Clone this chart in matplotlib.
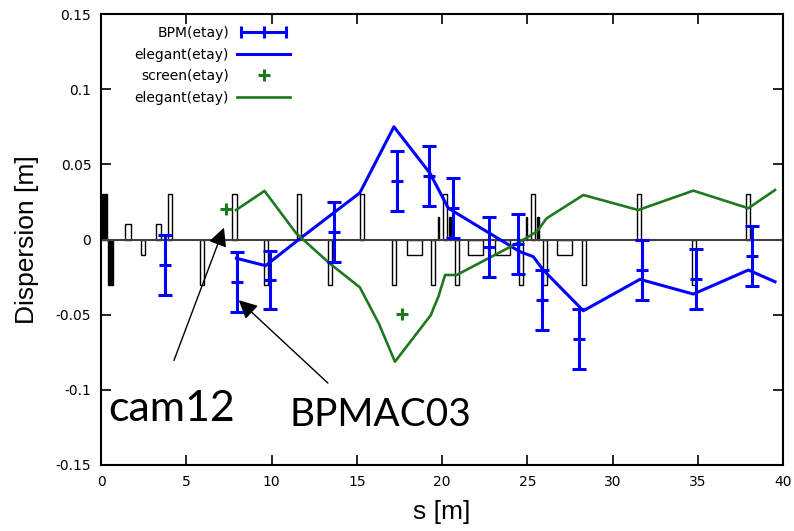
import numpy as np
import matplotlib
matplotlib.use("Agg")
import matplotlib.pyplot as plt
from matplotlib.lines import Line2D
from matplotlib.legend_handler import HandlerTuple, HandlerLine2D

# BPM measurements (s [m], etay [m], error [m])
bpm_s = [3.75, 7.98, 9.91, 13.68, 17.38, 19.26, 20.66, 22.77, 24.44, 25.88, 28.05, 31.73, 34.90, 38.16]
bpm_eta = [-0.017, -0.028, -0.027, 0.005, 0.039, 0.042, 0.021, -0.005, -0.003, -0.040, -0.066, -0.020, -0.026, -0.011]
bpm_err = [0.020, 0.020, 0.0195, 0.020, 0.020, 0.020, 0.020, 0.020, 0.020, 0.020, 0.020, 0.020, 0.020, 0.020]

# elegant model, BPM plane (blue)
ele_bpm_s = [7.94, 9.65, 11.6, 15.18, 17.18, 19.3, 20.37, 24.57, 25.35, 25.94, 28.29, 31.61, 34.74, 37.97, 39.53]
ele_bpm_eta = [-0.0125, -0.0174, 0.0, 0.031, 0.075, 0.044, 0.0208, -0.0081, -0.0114, -0.0203, -0.0474, -0.0265, -0.0363, -0.0203, -0.0281]

# screen measurements (green)
scr_s = [7.33, 17.63]
scr_eta = [0.020, -0.0496]

# elegant model, screen plane (green)
ele_scr_s = [7.92, 9.59, 11.45, 13.4, 15.18, 16.3, 17.24, 19.35, 19.5, 19.79, 20.18, 20.86, 24.57, 25.55, 26.14,
             28.29, 31.51, 34.74, 37.97, 39.53]
ele_scr_eta = [0.0196, 0.0323, 0.0041, -0.0158, -0.0318, -0.056, -0.0813, -0.0502, -0.0458, -0.038, -0.0236,
               -0.0236, -0.0015, 0.0052, 0.0141, 0.0296, 0.0196, 0.0325, 0.0208, 0.0329]

# lattice elements: start s, length, height, filled
elem_s = [0.04, 0.43, 1.41, 2.35, 3.2, 3.95, 5.8, 7.7, 9.58, 11.48, 13.33, 15.19, 17.05, 17.93, 19.35, 19.75,
          20.06, 20.43, 20.76, 21.54, 23.1, 24.52, 24.93, 25.22, 25.59, 25.94, 26.73, 28.19, 31.42, 34.64, 37.83]
elem_len = [0.29, 0.29, 0.33, 0.25, 0.3, 0.23, 0.26, 0.26, 0.23, 0.23, 0.24, 0.24, 0.25, 0.88, 0.24, 0.08,
            0.25, 0.08, 0.24, 0.88, 0.89, 0.25, 0.08, 0.25, 0.08, 0.24, 0.88, 0.24, 0.23, 0.24, 0.24]
elem_h = [0.03, -0.03, 0.01, -0.01, 0.01, 0.03, -0.03, 0.03, -0.03, 0.03, -0.03, 0.03, -0.03, -0.01, -0.03, 0.015,
          0.03, 0.015, -0.03, -0.01, -0.01, -0.03, 0.015, 0.03, 0.015, -0.03, -0.01, -0.03, 0.03, -0.03, 0.03]
elem_filled = [1, 1, 0, 0, 0, 0, 0, 0, 0, 0, 0, 0, 0, 0, 0, 1,
               0, 1, 0, 0, 0, 0, 1, 0, 1, 0, 0, 0, 0, 0, 0]

blue = '#0000ff'
green = '#1e781e'

plt.rcParams['font.family'] = 'DejaVu Sans'
fig = plt.figure(figsize=(7.94, 5.31), dpi=100)
ax = fig.add_axes([101 / 794, 1 - 465 / 531, 682 / 794, 451 / 531])

# lattice
for s, l, h, f in zip(elem_s, elem_len, elem_h, elem_filled):
    ax.bar(s, h, width=l, align='edge', bottom=0, facecolor='black' if f else 'white',
           edgecolor='black', linewidth=1.0, zorder=1)
ax.axhline(0, color='#404040', lw=1.5, zorder=2)

eb = ax.errorbar(bpm_s, bpm_eta, yerr=bpm_err, fmt='+', color=blue, ms=9, mew=2.2,
                 elinewidth=2.2, capsize=5, capthick=2.2, zorder=4)
l1, = ax.plot(ele_bpm_s, ele_bpm_eta, color=blue, lw=2.2, zorder=3)
sc, = ax.plot(scr_s, scr_eta, '+', color=green, ms=8, mew=2.2, zorder=4)
l2, = ax.plot(ele_scr_s, ele_scr_eta, color=green, lw=1.9, zorder=3)

ax.set_xlim(0, 40)
ax.set_ylim(-0.15, 0.15)
ax.set_xticks(np.arange(0, 41, 5))
ax.set_yticks([-0.15, -0.1, -0.05, 0, 0.05, 0.1, 0.15])
ax.set_yticklabels(['-0.15', '-0.1', '-0.05', '0', '0.05', '0.1', '0.15'])
ax.tick_params(direction='in', length=7, width=1.2, top=True, right=True, labelsize=10, pad=7)
for sp in ax.spines.values():
    sp.set_linewidth(1.5)

ax.set_xlabel('s [m]', family='Liberation Sans', fontsize=19, labelpad=8)
ax.set_ylabel('Dispersion [m]', family='Liberation Sans', fontsize=19, labelpad=12)

# legend (gnuplot style: text first, right aligned)
h_bar = Line2D([], [], color=blue, lw=2.2, marker='|', ms=9, mew=2.2)
h_mid = Line2D([], [], color=blue, lw=0, marker='+', ms=8, mew=2.2)
leg = ax.legend([(h_bar, h_mid), l1, sc, l2],
                ['BPM(etay)', 'elegant(etay)', 'screen(etay)', 'elegant(etay)'],
                handler_map={tuple: HandlerTuple(ndivide=1),
                             h_bar: HandlerLine2D(numpoints=2),
                             h_mid: HandlerLine2D(numpoints=1),
                             sc: HandlerLine2D(numpoints=1)},
                markerfirst=False, frameon=False, loc='upper left',
                bbox_to_anchor=(0.035, 0.995), fontsize=10, handlelength=3.8,
                handletextpad=0.6, labelspacing=0.55, borderaxespad=0.3)

# annotations
ax.annotate('', xy=(7.27, 0.0096), xytext=(4.22, -0.0822),
            arrowprops=dict(arrowstyle='-|>', color='black', lw=1, mutation_scale=28))
ax.annotate('', xy=(7.96, -0.0391), xytext=(13.43, -0.0968),
            arrowprops=dict(arrowstyle='-|>', color='black', lw=1, mutation_scale=28))
ax.text(0.41, -0.1208, 'cam12', family='Lato', fontsize=31, va='baseline', ha='left')
ax.text(11.08, -0.124, 'BPMAC03', family='Lato', fontsize=28, va='baseline', ha='left')

fig.savefig('out.png', dpi=100)
